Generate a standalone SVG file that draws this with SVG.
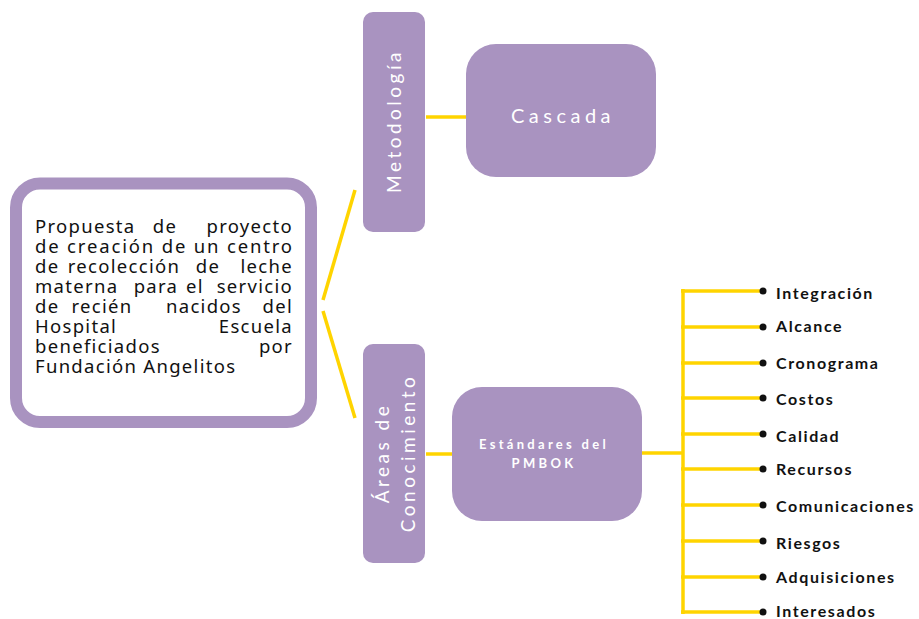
<svg xmlns="http://www.w3.org/2000/svg" width="919" height="619" viewBox="0 0 919 619">
<style>
.box{fill:#A993C0}
.ln{stroke:#FFD400;stroke-width:3.5;fill:none;stroke-linecap:butt}
.main{font-family:"Noto Sans","Liberation Sans",sans-serif;font-size:18.5px;letter-spacing:1.3px;fill:#111}
.lbl{font-family:Lato,"Noto Sans",sans-serif;fill:#fff;text-anchor:middle}
.item{font-family:Lato,"Noto Sans",sans-serif;font-weight:bold;font-size:16px;letter-spacing:1.6px;fill:#111}
</style>
<rect width="919" height="619" fill="#fff"/>
<g id="connectors">
<line class="ln" x1="355" y1="190" x2="323" y2="300"/>
<line class="ln" x1="323" y1="311" x2="355" y2="418"/>
<line class="ln" x1="426" y1="117" x2="467" y2="117"/>
<line class="ln" x1="426" y1="454" x2="453" y2="454"/>
<line class="ln" x1="641" y1="453" x2="683" y2="453"/>
<line class="ln" x1="683" y1="289" x2="683" y2="614"/>
<g>
<line class="ln" x1="681" y1="291" x2="763" y2="291"/>
<line class="ln" x1="681" y1="327" x2="763" y2="327"/>
<line class="ln" x1="681" y1="363" x2="763" y2="363"/>
<line class="ln" x1="681" y1="398" x2="763" y2="398"/>
<line class="ln" x1="681" y1="434" x2="763" y2="434"/>
<line class="ln" x1="681" y1="469" x2="763" y2="469"/>
<line class="ln" x1="681" y1="505" x2="763" y2="505"/>
<line class="ln" x1="681" y1="541" x2="763" y2="541"/>
<line class="ln" x1="681" y1="577" x2="763" y2="577"/>
<line class="ln" x1="681" y1="612" x2="763" y2="612"/>
</g>
</g>
<g id="main">
<rect x="16" y="183.5" width="295" height="238.5" rx="24" fill="#fff" stroke="#A993C0" stroke-width="12"/>
<text class="main"><tspan x="35" y="233">Propuesta</tspan><tspan x="165" y="233" text-anchor="middle">de</tspan><tspan x="293" y="233" text-anchor="end">proyecto</tspan></text>
<text class="main" x="35" y="253" textLength="257" lengthAdjust="spacing" style="letter-spacing:0">de creación de un centro</text>
<text class="main"><tspan x="35" y="273">de</tspan><tspan x="124" y="273" text-anchor="middle">recolección</tspan><tspan x="208" y="273" text-anchor="middle">de</tspan><tspan x="293" y="273" text-anchor="end">leche</tspan></text>
<text class="main"><tspan x="35" y="293">materna</tspan><tspan x="156" y="293" text-anchor="middle">para</tspan><tspan x="195" y="293" text-anchor="middle">el</tspan><tspan x="293" y="293" text-anchor="end">servicio</tspan></text>
<text class="main"><tspan x="35" y="313">de</tspan><tspan x="102" y="313" text-anchor="middle">recién</tspan><tspan x="204" y="313" text-anchor="middle">nacidos</tspan><tspan x="293" y="313" text-anchor="end">del</tspan></text>
<text class="main"><tspan x="35" y="333">Hospital</tspan><tspan x="293" y="333" text-anchor="end">Escuela</tspan></text>
<text class="main"><tspan x="35" y="353">beneficiados</tspan><tspan x="293" y="353" text-anchor="end">por</tspan></text>
<text class="main" x="35" y="373">Fundación Angelitos</text>
</g>
<g id="metodologia">
<rect class="box" x="363" y="12" width="62" height="220" rx="10"/>
<text class="lbl" transform="translate(401,121) rotate(-90)" font-size="19" letter-spacing="3.5">Metodología</text>
</g>
<g id="cascada">
<rect class="box" x="466" y="44" width="190" height="133" rx="30"/>
<text class="lbl" x="563" y="123" font-size="20" letter-spacing="4.5">Cascada</text>
</g>
<g id="areas">
<rect class="box" x="363" y="344" width="62" height="219" rx="10"/>
<text class="lbl" transform="translate(389,453) rotate(-90)" font-size="19" letter-spacing="3.5">Áreas de</text>
<text class="lbl" transform="translate(415,453) rotate(-90)" font-size="19" letter-spacing="3.5">Conocimiento</text>
</g>
<g id="estandares">
<rect class="box" x="452" y="387" width="190" height="134" rx="30"/>
<text class="lbl" x="544" y="449" font-size="13" font-weight="bold" letter-spacing="3.3">Estándares del</text>
<text class="lbl" x="544" y="468" font-size="13" font-weight="bold" letter-spacing="3.3">PMBOK</text>
</g>
<g id="items">
<g fill="#111">
<circle cx="763" cy="291" r="3.5"/><circle cx="763" cy="327" r="3.5"/><circle cx="763" cy="363" r="3.5"/><circle cx="763" cy="398" r="3.5"/><circle cx="763" cy="434" r="3.5"/><circle cx="763" cy="469" r="3.5"/><circle cx="763" cy="505" r="3.5"/><circle cx="763" cy="541" r="3.5"/><circle cx="763" cy="577" r="3.5"/><circle cx="763" cy="612" r="3.5"/>
</g>
<text class="item" x="776" y="299">Integración</text>
<text class="item" x="776" y="332">Alcance</text>
<text class="item" x="776" y="369">Cronograma</text>
<text class="item" x="776" y="405">Costos</text>
<text class="item" x="776" y="442">Calidad</text>
<text class="item" x="776" y="475">Recursos</text>
<text class="item" x="776" y="512">Comunicaciones</text>
<text class="item" x="776" y="549">Riesgos</text>
<text class="item" x="776" y="583">Adquisiciones</text>
<text class="item" x="776" y="617">Interesados</text>
</g>
</svg>
